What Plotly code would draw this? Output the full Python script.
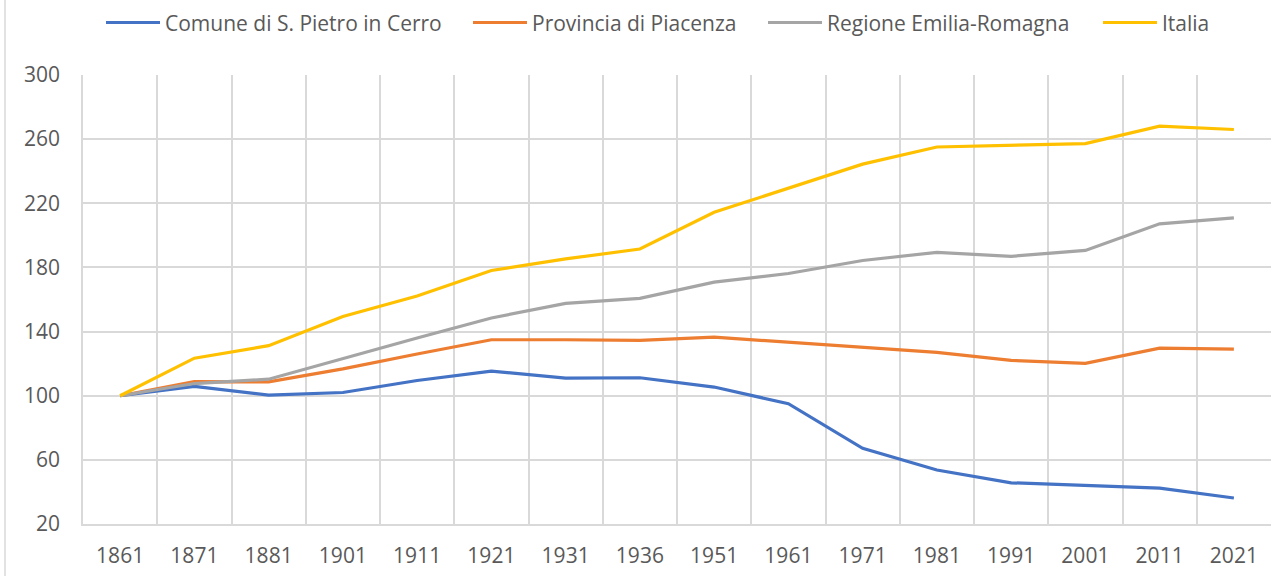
import plotly.graph_objects as go

years = ["1861", "1871", "1881", "1901", "1911", "1921", "1931", "1936",
         "1951", "1961", "1971", "1981", "1991", "2001", "2011", "2021"]

comune = [100, 105.8, 100.4, 102.0, 109.5, 115.3, 111.0, 111.2,
          105.4, 95.0, 67.2, 53.7, 45.7, 44.0, 42.4, 36.2]
provincia = [100, 108.8, 108.6, 116.7, 126.0, 134.9, 134.9, 134.5,
             136.5, 133.2, 130.2, 127.0, 122.0, 120.2, 129.7, 129.1]
regione = [100, 107.6, 110.3, 123.4, 136.0, 148.5, 157.6, 160.7,
           170.8, 176.2, 184.3, 189.4, 186.9, 190.6, 207.2, 210.9]
italia = [100, 123.4, 131.2, 149.4, 162.2, 178.1, 185.3, 191.5,
          214.4, 229.3, 244.4, 255.1, 256.1, 257.2, 268.1, 266.0]

names = ["Comune di S. Pietro in Cerro", "Provincia di Piacenza",
         "Regione Emilia-Romagna", "Italia"]
colors = ["#4472C4", "#ED7D31", "#A5A5A5", "#FFC000"]
values = [comune, provincia, regione, italia]

y_ticks = [20, 60, 100, 140, 180, 220, 260, 300]

# layout geometry (pixels)
W, H = 1283, 576
ML, MR, MT, MB = 83, 12, 75, 52
PW, PH = W - ML - MR, H - MT - MB
legend_text_x = [165, 532, 827, 1162]   # left edge of legend labels
legend_y = 22.5

font_family = "Open Sans"
text_color = "#595959"
grid_color = "#D9D9D9"
fsize = 21

fig = go.Figure()
for name, vals, color in zip(names, values, colors):
    fig.add_trace(go.Scatter(
        x=years, y=vals, name=name, mode="lines",
        line=dict(color=color, width=3.2), showlegend=False,
    ))

def px_x(p):
    return (p - ML) / PW

def px_y(p):
    return 1 + (MT - p) / PH

shapes = [dict(type="line", xref="paper", yref="paper",
               x0=px_x(5), x1=px_x(5), y0=px_y(H), y1=px_y(0),
               line=dict(color="#D9D9D9", width=1.5))]
annotations = []
for name, color, tx in zip(names, colors, legend_text_x):
    shapes.append(dict(type="line", xref="paper", yref="paper",
                       x0=px_x(tx - 59), x1=px_x(tx - 5),
                       y0=px_y(legend_y), y1=px_y(legend_y),
                       line=dict(color=color, width=3.2)))
    annotations.append(dict(text=name, xref="paper", yref="paper",
                            x=px_x(tx - 2), y=px_y(legend_y), xanchor="left",
                            yanchor="middle", showarrow=False,
                            font=dict(family=font_family, size=fsize, color=text_color)))

fig.update_layout(
    width=W, height=H,
    paper_bgcolor="white", plot_bgcolor="white",
    margin=dict(l=ML, r=MR, t=MT, b=MB),
    font=dict(family=font_family, size=fsize, color=text_color),
    showlegend=False,
    xaxis=dict(
        type="category", range=[-0.5, len(years) - 0.5], automargin=False,
        tickson="boundaries", showgrid=True, gridcolor=grid_color, gridwidth=1.5,
        showline=True, linecolor=grid_color, linewidth=1.5,
        ticks="", ticklabelstandoff=12, tickfont=dict(size=fsize, color=text_color),
        zeroline=False, fixedrange=True,
    ),
    yaxis=dict(
        range=[20, 300], tickvals=y_ticks, showgrid=True, gridcolor=grid_color,
        gridwidth=1.5, showline=True, linecolor=grid_color, linewidth=1.5,
        automargin=False,
        ticks="", ticklabelstandoff=17, tickfont=dict(size=fsize, color=text_color),
        zeroline=False, fixedrange=True,
    ),
    shapes=shapes,
    annotations=annotations,
)

fig.write_html("out.html", config={"displayModeBar": False},
               post_script="document.body.style.margin='0px';document.body.style.overflow='hidden';")
